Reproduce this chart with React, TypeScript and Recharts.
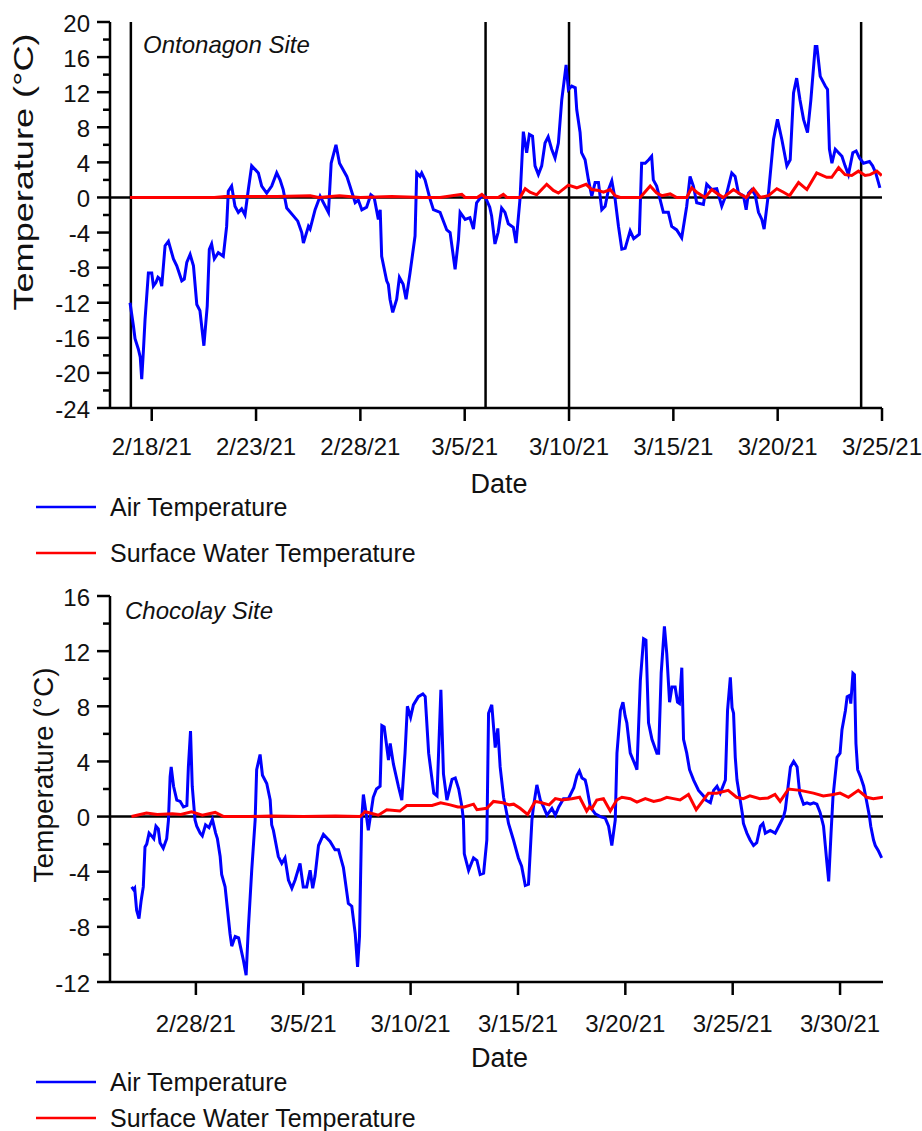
import React from 'react';
import { Label, Line, LineChart, ReferenceLine, XAxis, YAxis } from 'recharts';

const FONT = '"Liberation Sans", Arial, Helvetica, sans-serif';
const AIR = '#0000ff';
const WATER = '#ff0000';

// ---- Ontonagon site (day 0 = 2/16/21) ----
const ontTickDays = [2, 7, 12, 17, 22, 27, 32, 37];
const ontTickLabels = ['2/18/21', '2/23/21', '2/28/21', '3/5/21', '3/10/21', '3/15/21', '3/20/21', '3/25/21'];
const ontYTicks = [-24, -22, -20, -18, -16, -14, -12, -10, -8, -6, -4, -2, 0, 2, 4, 6, 8, 10, 12, 14, 16, 18, 20];
const ontEventDays = [1, 18, 22, 36];

const ontAir: [number, number][] = [
  [0.96, -12.0], [1.12, -14.6], [1.2, -16.1], [1.36, -17.3], [1.45, -18.2], [1.52, -20.7], [1.6, -17.5],
  [1.68, -13.9], [1.84, -8.6], [2.0, -8.6], [2.08, -10.1], [2.2, -9.7], [2.3, -9.1], [2.4, -9.3],
  [2.48, -10.1], [2.64, -5.5], [2.8, -5.0], [3.04, -7.0], [3.2, -7.8], [3.44, -9.5], [3.56, -9.3],
  [3.68, -7.4], [3.84, -6.5], [4.0, -7.8], [4.16, -12.2], [4.31, -12.9], [4.5, -16.9], [4.66, -12.4],
  [4.76, -5.9], [4.87, -5.3], [5.0, -7.0], [5.19, -6.3], [5.43, -6.7], [5.59, -3.3], [5.67, 0.7],
  [5.83, 1.3], [5.99, -1.0], [6.15, -1.7], [6.31, -1.3], [6.47, -2.0], [6.63, 0.9], [6.79, 3.6],
  [6.95, 3.2], [7.11, 2.8], [7.27, 1.3], [7.51, 0.5], [7.75, 1.3], [7.99, 2.8], [8.15, 2.0], [8.3, 0.9],
  [8.47, -1.2], [8.79, -2.1], [9.0, -2.7], [9.19, -4.0], [9.27, -5.2], [9.51, -3.3], [9.59, -3.6],
  [9.83, -1.4], [10.07, 0.15], [10.23, -0.6], [10.47, -1.7], [10.6, 3.9], [10.83, 6.0], [11.0, 3.9],
  [11.35, 2.4], [11.5, 1.3], [11.75, -0.6], [11.9, -0.3], [12.07, -1.4], [12.3, -1.1], [12.5, 0.3],
  [12.66, 0], [12.86, -2.5], [12.95, -1.4], [13.02, -6.7], [13.26, -9.5], [13.34, -9.9], [13.42, -11.6],
  [13.55, -13.1], [13.74, -11.6], [13.87, -9.1], [14.05, -9.9], [14.19, -11.6], [14.38, -8.6],
  [14.62, -4.4], [14.7, 2.8], [14.86, 2.4], [14.94, 2.8], [15.1, 2.0], [15.34, -0.2], [15.5, -1.4],
  [15.82, -1.7], [16.14, -3.7], [16.3, -4.0], [16.54, -8.2], [16.7, -4.8], [16.78, -1.7], [17.02, -2.5],
  [17.25, -2.3], [17.42, -3.6], [17.57, -0.6], [17.81, 0.15], [17.97, 0.15], [18.2, -1.1], [18.29, -2.1],
  [18.45, -5.3], [18.6, -4.0], [18.77, -1.2], [18.93, -1.7], [19.09, -3.0], [19.33, -3.4], [19.46, -5.2],
  [19.65, -0.2], [19.81, 7.5], [19.97, 5.1], [20.1, 7.2], [20.25, 7.0], [20.37, 3.6], [20.53, 2.6],
  [20.69, 3.6], [20.85, 6.2], [21.0, 6.9], [21.17, 5.5], [21.33, 4.5], [21.49, 6.2], [21.65, 11.1],
  [21.86, 15.1], [21.97, 12.3], [22.13, 12.7], [22.3, 12.5], [22.37, 10.0], [22.53, 7.4], [22.6, 5.1],
  [22.77, 4.3], [22.93, 2.0], [23.09, 0.15], [23.25, 1.7], [23.41, 1.7], [23.57, -1.4], [23.73, -1.0],
  [23.89, 0.9], [24.05, 1.9], [24.21, -0.2], [24.37, -3.3], [24.53, -5.9], [24.69, -5.8], [24.93, -3.8],
  [25.1, -4.7], [25.37, -4.2], [25.48, 3.9], [25.65, 3.9], [25.82, 4.3], [25.96, 4.7], [26.04, 2.0],
  [26.2, 1.3], [26.36, -0.2], [26.52, -1.7], [26.76, -1.7], [26.92, -3.3], [27.16, -3.7], [27.4, -4.6],
  [27.64, -1.0], [27.8, 2.4], [27.96, 1.3], [28.12, -0.6], [28.44, -0.8], [28.6, 1.5], [28.84, 0.9],
  [29.08, 1.0], [29.32, -1.0], [29.56, 0.5], [29.8, 2.8], [29.96, 2.4], [30.12, 0.5], [30.36, 0.2],
  [30.49, -1.4], [30.6, 0.5], [30.76, 0.9], [30.92, 0.3], [31.08, -1.7], [31.24, -2.5], [31.35, -3.6],
  [31.56, 0.5], [31.8, 6.6], [31.99, 8.9], [32.2, 6.6], [32.44, 3.6], [32.6, 4.3], [32.76, 11.9],
  [32.91, 13.6], [33.07, 11.1], [33.24, 8.9], [33.43, 7.4], [33.59, 11.1], [33.8, 17.2], [33.88, 17.2],
  [34.04, 13.8], [34.28, 12.7], [34.39, 12.3], [34.48, 5.5], [34.6, 3.9], [34.76, 5.5], [34.92, 5.1],
  [35.08, 4.7], [35.23, 3.6], [35.39, 2.6], [35.6, 5.1], [35.76, 5.3], [35.92, 4.5], [36.11, 3.9],
  [36.4, 4.1], [36.55, 3.6], [36.7, 2.8], [36.9, 1.1],
];

const ontWater: [number, number][] = [
  [0.96, 0], [5.0, 0], [5.5, 0.1], [8.0, 0.1], [9.6, 0.2], [10.0, 0], [11.0, 0.2], [12.0, 0],
  [13.5, 0.1], [15.0, 0], [15.82, 0], [16.86, 0.35], [17.02, 0], [17.6, 0], [17.82, 0.35], [17.98, 0],
  [18.6, 0], [18.85, 0.35], [19.02, 0], [19.65, 0], [19.9, 1.0], [20.13, 0.6], [20.45, 0.3],
  [20.93, 1.5], [21.25, 0.8], [21.49, 0.5], [21.97, 1.4], [22.37, 1.1], [22.82, 1.5], [23.09, 0.9],
  [23.41, 0.8], [23.65, 0.6], [23.97, 0.9], [24.21, 0.2], [24.45, 0], [25.41, 0], [25.89, 1.3],
  [26.2, 0.5], [26.45, 0.2], [26.85, 0.4], [27.16, 0], [27.64, 0], [27.88, 1.1], [28.12, 0.6],
  [28.52, 0], [28.84, 0.9], [29.16, 0.35], [29.4, 0], [29.88, 0.9], [30.2, 0.4], [30.49, 0],
  [30.84, 1.0], [31.16, 0], [31.56, 0.2], [31.96, 1.0], [32.28, 0.6], [32.57, 0.2], [33.0, 1.7],
  [33.4, 0.9], [33.87, 2.8], [34.35, 2.3], [34.59, 2.3], [34.92, 3.4], [35.23, 2.6], [35.55, 2.5],
  [35.87, 3.0], [36.19, 2.5], [36.43, 2.6], [36.75, 3.0], [36.99, 2.5],
];

// ---- Chocolay site (day 0 = 2/24/21) ----
const chocTickDays = [4, 9, 14, 19, 24, 29, 34];
const chocTickLabels = ['2/28/21', '3/5/21', '3/10/21', '3/15/21', '3/20/21', '3/25/21', '3/30/21'];
const chocYTicks = [-12, -10, -8, -6, -4, -2, 0, 2, 4, 6, 8, 10, 12, 14, 16];

const chocAir: [number, number][] = [
  [1.01, -5.1], [1.1, -5.3], [1.15, -5.2], [1.24, -6.8], [1.35, -7.4], [1.45, -6.1], [1.55, -5.1],
  [1.63, -2.2], [1.71, -2.0], [1.82, -1.2], [1.94, -1.4], [2.04, -1.6], [2.14, -0.7], [2.25, -0.9],
  [2.33, -1.9], [2.48, -2.3], [2.64, -1.6], [2.72, -0.3], [2.8, 2.9], [2.85, 3.6], [2.96, 2.2],
  [3.11, 1.2], [3.27, 1.1], [3.42, 0.7], [3.58, 0.8], [3.65, 3.6], [3.75, 6.2], [3.83, 2.2],
  [3.96, -0.25], [4.04, -0.7], [4.2, -1.2], [4.3, -1.4], [4.45, -0.6], [4.61, -0.8], [4.77, -0.2],
  [4.92, -1.2], [5.0, -1.6], [5.13, -2.9], [5.2, -4.2], [5.36, -5.1], [5.59, -8.5], [5.67, -9.4],
  [5.83, -8.7], [5.99, -8.8], [6.07, -9.4], [6.21, -10.4], [6.34, -11.5], [6.44, -8.2], [6.6, -3.9],
  [6.76, -0.25], [6.83, 3.4], [6.99, 4.5], [7.1, 3.0], [7.3, 2.4], [7.46, 1.2], [7.53, -0.6],
  [7.61, -1.0], [7.84, -2.9], [8.0, -3.4], [8.15, -3.0], [8.31, -4.6], [8.47, -5.2], [8.62, -4.6],
  [8.85, -3.4], [9.0, -5.1], [9.16, -5.1], [9.32, -3.9], [9.44, -5.2], [9.55, -4.3], [9.71, -2.1],
  [9.94, -1.3], [10.25, -1.8], [10.48, -2.4], [10.64, -2.4], [10.87, -3.7], [11.1, -6.3], [11.26, -6.5],
  [11.42, -8.5], [11.53, -10.9], [11.62, -8.7], [11.72, -0.25], [11.8, 1.6], [11.93, 0.2], [12.03, -1.0],
  [12.26, 1.4], [12.41, 2.0], [12.58, 2.2], [12.66, 6.6], [12.77, 6.5], [12.97, 4.1], [13.05, 5.3],
  [13.2, 3.8], [13.43, 2.2], [13.59, 1.2], [13.74, 4.6], [13.85, 8.0], [14.0, 7.2], [14.13, 8.1],
  [14.36, 8.7], [14.57, 8.9], [14.68, 8.7], [14.84, 4.6], [15.08, 1.7], [15.23, 1.5], [15.41, 9.2],
  [15.53, 3.1], [15.69, 1.2], [15.93, 2.7], [16.08, 2.8], [16.24, 2.0], [16.39, 0.7], [16.46, -0.25],
  [16.5, -2.7], [16.7, -3.9], [16.93, -3.0], [17.09, -3.2], [17.24, -4.2], [17.4, -4.1], [17.55, -1.7],
  [17.63, 7.5], [17.78, 8.1], [17.94, 5.0], [18.06, 6.4], [18.17, 3.6], [18.33, 1.4], [18.48, 0.2],
  [18.56, -0.5], [18.79, -1.7], [19.02, -3.0], [19.17, -3.6], [19.34, -5.0], [19.49, -4.9], [19.65, -0.25],
  [19.72, 0.7], [19.88, 2.3], [20.04, 1.2], [20.19, 0.7], [20.35, 0.1], [20.58, 0.6], [20.74, 0.1],
  [20.9, 0.7], [21.12, 1.3], [21.35, 1.3], [21.6, 2.1], [21.75, 3.0], [21.86, 3.3], [21.98, 2.8],
  [22.13, 2.65], [22.2, 2.2], [22.37, 0.7], [22.6, 0.2], [22.83, 0.0], [23.06, -0.1], [23.22, -0.7],
  [23.37, -2.1], [23.53, -0.25], [23.61, 4.6], [23.77, 7.7], [23.89, 8.3], [23.99, 7.3], [24.07, 6.8],
  [24.23, 4.6], [24.47, 3.7], [24.54, 3.4], [24.7, 9.9], [24.85, 12.9], [24.96, 12.8], [25.08, 6.8],
  [25.24, 5.6], [25.47, 4.6], [25.55, 4.6], [25.67, 10.4], [25.82, 13.8], [25.93, 11.8], [26.06, 8.3],
  [26.17, 9.4], [26.32, 9.4], [26.43, 8.3], [26.52, 8.2], [26.63, 10.8], [26.71, 5.6], [26.86, 4.6],
  [26.99, 3.4], [27.18, 2.65], [27.41, 1.9], [27.64, 1.5], [27.74, 1.2], [27.96, 1.0], [28.11, 1.9],
  [28.27, 2.2], [28.42, 1.7], [28.66, 2.65], [28.76, 7.7], [28.89, 10.1], [28.97, 7.9], [29.04, 7.5],
  [29.12, 4.3], [29.2, 2.65], [29.45, 0.2], [29.5, -0.5], [29.66, -1.2], [29.81, -1.7], [29.97, -2.1],
  [30.12, -1.9], [30.29, -0.7], [30.41, -0.5], [30.52, -1.2], [30.75, -1.0], [30.98, -1.2], [31.21, -0.5],
  [31.37, 0.0], [31.45, 0.5], [31.69, 3.6], [31.84, 4.0], [32.0, 3.6], [32.12, 1.7], [32.3, 0.9],
  [32.46, 1.0], [32.61, 0.9], [32.77, 1.0], [32.92, 0.9], [33.07, 0.3], [33.23, -0.7], [33.39, -3.4],
  [33.47, -4.7], [33.58, -1.2], [33.67, 1.4], [33.86, 4.3], [34.0, 4.6], [34.09, 6.3], [34.25, 7.7],
  [34.33, 8.7], [34.45, 8.8], [34.5, 8.2], [34.6, 10.4], [34.67, 10.3], [34.74, 5.3], [34.82, 3.4],
  [34.95, 2.9], [35.1, 2.2], [35.25, 1.0], [35.37, 0.0], [35.43, -0.7], [35.56, -1.7], [35.64, -2.1],
  [35.79, -2.5], [35.94, -3.0],
];

const chocWater: [number, number][] = [
  [1.0, 0], [1.7, 0.25], [2.2, 0.15], [2.9, 0.2], [3.3, 0.15], [3.8, 0.35], [4.3, 0.1], [4.9, 0.3],
  [5.3, 0], [6.5, 0], [7.5, 0.05], [9.0, 0], [10.5, 0.05], [11.65, 0], [11.88, 0.35], [12.5, 0.1],
  [12.89, 0.5], [13.5, 0.4], [13.82, 0.8], [14.4, 0.8], [15.0, 0.8], [15.4, 1.0], [15.84, 0.85],
  [16.2, 0.7], [16.5, 0.7], [16.93, 0.9], [17.09, 0.5], [17.55, 0.6], [17.86, 1.1], [18.3, 1.0],
  [18.6, 0.85], [18.8, 0.9], [19.1, 0.6], [19.45, 0.15], [19.8, 1.1], [20.1, 1.0], [20.45, 0.85],
  [20.74, 1.3], [21.05, 1.2], [21.5, 1.3], [21.87, 1.4], [22.2, 0.4], [22.33, 0.7], [22.43, 0.55],
  [22.67, 1.2], [22.98, 1.3], [23.3, 0.4], [23.6, 1.2], [23.84, 1.4], [24.23, 1.3], [24.54, 1.05],
  [24.93, 1.3], [25.32, 1.1], [25.63, 1.2], [25.93, 1.4], [26.24, 1.3], [26.55, 1.2], [26.94, 1.6],
  [27.3, 0.5], [27.63, 1.2], [27.87, 1.7], [28.26, 1.7], [28.79, 1.9], [29.18, 1.4], [29.49, 1.3],
  [29.8, 1.5], [30.27, 1.3], [30.65, 1.35], [30.97, 1.6], [31.21, 1.1], [31.6, 2.0], [32.14, 1.9],
  [32.76, 1.7], [33.22, 1.5], [33.69, 1.6], [34.0, 1.7], [34.39, 1.4], [34.85, 1.9], [35.24, 1.4],
  [35.55, 1.3], [36.0, 1.4],
];

const rows = (pts: [number, number][]) => pts.map(([d, t]) => ({ d, t }));

// y ticks: long mark + label on multiples of 4, short mark otherwise
const YTick = (props: any) => {
  const { x, y, payload } = props;
  const v = payload.value;
  const major = v % 4 === 0;
  const axisX = x + 20; // tickMargin 7 + tickSize 13
  return (
    <g>
      <line x1={axisX - (major ? 13 : 7)} x2={axisX} y1={y} y2={y} stroke="#000" strokeWidth={2.5} />
      {major ? (
        <text x={x} y={y} dy={9.5} textAnchor="end" fontSize={24} fill="#111" fontFamily={FONT}>
          {v}
        </text>
      ) : null}
    </g>
  );
};

// rotated axis title; cx is the title's centre from the chart's left edge
const yTitle = (cx: number, dy: number, len?: number) => (props: any) => {
  const vb = props.viewBox || {};
  const top = typeof vb.y === 'number' ? vb.y : 0;
  const h = typeof vb.height === 'number' ? vb.height : 0;
  const cy = top + h / 2 + dy;
  return (
    <text
      transform={`translate(${cx},${cy}) rotate(-90)`}
      textAnchor="middle"
      dominantBaseline="central"
      fontSize={28}
      fill="#111"
      fontFamily={FONT}
      textLength={len}
      lengthAdjust={len ? 'spacingAndGlyphs' : undefined}
    >
      Temperature (°C)
    </text>
  );
};

const xTitle = (props: any) => {
  const vb = props.viewBox || { x: 0, y: 0, width: 0, height: 0 };
  return (
    <text x={vb.x + vb.width / 2 + 3} y={vb.y + 85} textAnchor="middle" fontSize={27} fill="#111" fontFamily={FONT}>
      Date
    </text>
  );
};

const LegendBlock = ({ top, gap }: { top: number; gap: number }) => (
  <div style={{ position: 'absolute', left: 0, top, width: 500, fontFamily: FONT, fontSize: 25, color: '#111' }}>
    {[
      { name: 'Air Temperature', color: AIR, y: 0 },
      { name: 'Surface Water Temperature', color: WATER, y: gap },
    ].map((it) => (
      <div key={it.name} style={{ position: 'absolute', top: it.y, left: 0, height: 30, width: 500 }}>
        <svg width={100} height={30} style={{ position: 'absolute', left: 0, top: 0 }}>
          <line x1={36} x2={96} y1={15} y2={15} stroke={it.color} strokeWidth={2.5} />
        </svg>
        <span style={{ position: 'absolute', left: 110, top: 0, lineHeight: '30px', whiteSpace: 'nowrap' }}>{it.name}</span>
      </div>
    ))}
  </div>
);

const SiteTitle = ({ text, left, top }: { text: string; left: number; top: number }) => (
  <div style={{ position: 'absolute', left, top, fontFamily: FONT, fontSize: 24, fontStyle: 'italic', color: '#111', whiteSpace: 'nowrap', lineHeight: '28px' }}>
    {text}
  </div>
);

const axisLine = { stroke: '#000', strokeWidth: 2.5 };

export default function App() {
  return (
    <div style={{ position: 'absolute', left: 0, top: 0, width: 922, height: 1131, background: '#fff', fontFamily: FONT, overflow: 'hidden' }}>
      {/* Ontonagon */}
      <div style={{ position: 'absolute', left: 0, top: 0 }}>
        <LineChart width={922} height={570} margin={{ top: 22, right: 40, bottom: 92, left: 0 }}>
          <XAxis
            dataKey="d"
            type="number"
            domain={[0, 37]}
            ticks={ontTickDays}
            interval={0}
            tickFormatter={(v: number) => ontTickLabels[ontTickDays.indexOf(v)]}
            height={70}
            tickSize={13}
            tickMargin={17}
            axisLine={axisLine}
            tickLine={axisLine}
            tick={{ fontSize: 24, fill: '#111', fontFamily: FONT }}
            allowDataOverflow
          >
            <Label content={xTitle} />
          </XAxis>
          <YAxis
            type="number"
            domain={[-24, 20]}
            ticks={ontYTicks}
            interval={0}
            width={110}
            tickSize={13}
            tickMargin={7}
            tickLine={false}
            axisLine={axisLine}
            tick={YTick}
            allowDataOverflow
          >
            <Label content={yTitle(23, -43, 277)} />
          </YAxis>
          <ReferenceLine y={0} stroke="#000" strokeWidth={2.5} />
          {ontEventDays.map((d) => (
            <ReferenceLine key={d} x={d} stroke="#000" strokeWidth={2.5} />
          ))}
          <Line data={rows(ontAir)} dataKey="t" type="linear" stroke={AIR} strokeWidth={3} dot={false} activeDot={false} isAnimationActive={false} />
          <Line data={rows(ontWater)} dataKey="t" type="linear" stroke={WATER} strokeWidth={3} dot={false} activeDot={false} isAnimationActive={false} />
        </LineChart>
        <SiteTitle text="Ontonagon Site" left={143} top={31} />
        <LegendBlock top={492} gap={46} />
      </div>

      {/* Chocolay */}
      <div style={{ position: 'absolute', left: 0, top: 570 }}>
        <LineChart width={922} height={561} margin={{ top: 26, right: 39, bottom: 79, left: 0 }}>
          <XAxis
            dataKey="d"
            type="number"
            domain={[0, 36]}
            ticks={chocTickDays}
            interval={0}
            tickFormatter={(v: number) => chocTickLabels[chocTickDays.indexOf(v)]}
            height={70}
            tickSize={13}
            tickMargin={20}
            axisLine={axisLine}
            tickLine={axisLine}
            tick={{ fontSize: 24, fill: '#111', fontFamily: FONT }}
            allowDataOverflow
          >
            <Label content={xTitle} />
          </XAxis>
          <YAxis
            type="number"
            domain={[-12, 16]}
            ticks={chocYTicks}
            interval={0}
            width={110}
            tickSize={13}
            tickMargin={7}
            tickLine={false}
            axisLine={axisLine}
            tick={YTick}
            allowDataOverflow
          >
            <Label content={yTitle(43, -14)} />
          </YAxis>
          <ReferenceLine y={0} stroke="#000" strokeWidth={2.5} />
          <Line data={rows(chocAir)} dataKey="t" type="linear" stroke={AIR} strokeWidth={3} dot={false} activeDot={false} isAnimationActive={false} />
          <Line data={rows(chocWater)} dataKey="t" type="linear" stroke={WATER} strokeWidth={3} dot={false} activeDot={false} isAnimationActive={false} />
        </LineChart>
        <SiteTitle text="Chocolay Site" left={125} top={27} />
        <LegendBlock top={497} gap={36} />
      </div>
    </div>
  );
}
